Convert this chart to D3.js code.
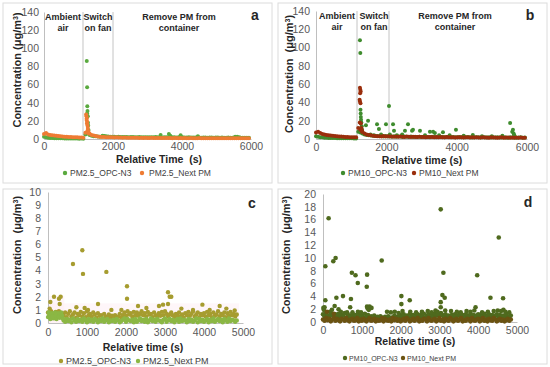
<!DOCTYPE html>
<html>
<head>
<meta charset="utf-8">
<style>
  body { margin: 0; background: #fff; }
  svg { font-family: "Liberation Sans", Arial, sans-serif; }
  .tick text { fill: #595959; font-size: 10.5px; }
  .ttl { font-weight: bold; fill: #262626; white-space: pre; }
  .note { font-weight: bold; fill: #262626; font-size: 9px; }
  .leg { fill: #404040; }
</style>
</head>
<body>
<svg id="fig" width="550" height="367"></svg>
<script src="https://cdn.jsdelivr.net/npm/d3@7"></script>
<script>
// ---- data ----
// panels a, b: one reading every 60 s from t = 0
var abStep = 60;
var aOpcBase = [2.5,2,1.5,1.2,1,0.9,0.8,0.8,0.7,0.7,0.6,0.6,0.5,0.6,0.5,0.5,0.5,0.4,0.5,0.4,
  5,6,4.5,3.5,3,3,2.8,2.6,2.8,3.2,
  3,2.8,2.6,2.5,2.4,2.3,2.5,2.2,2.3,2.1, 2.2,2,2.1,2.2,2,1.9,2.1,2,1.8,2,
  1.9,2,1.8,1.9,2.1,1.8,1.9,1.7,1.8,1.9, 1.8,1.7,1.9,1.8,1.6,1.8,1.7,1.9,1.7,1.6,
  1.8,1.7,1.6,1.7,1.8,1.6,1.5,1.7,1.6,1.5, 1.7,1.6,1.5,1.6,1.7,1.5,1.6,1.4,1.5,1.6,
  1.5,1.4,1.6,1.5,1.4,1.5,1.3,1.4,1.5,1.3];
var aOpcExtra = [[1240,86],[1250,57],[1255,36],[1260,31],[1250,28],[1270,25],[1275,18],[1280,15],
  [1290,10],[1300,6],[1700,3.5],[1750,3],[3380,4.5],[3620,5.5],[3660,3.5],[3960,4],[4460,3],
  [5540,2.5],[5600,2.5],[5660,2]];
var aNextBase = [5.5,6.5,5,4.5,4.2,3.8,3.5,3.2,3,2.8,2.6,2.5,2.3,2.2,2,2,1.8,1.7,1.6,1.5,
  7,9,6,4.5,3.8,3.2,2.8,2.5,2.3,2.1,
  2,1.9,2,1.8,1.7,1.8,1.6,1.7,1.5,1.6, 1.5,1.4,1.5,1.3,1.4,1.3,1.2,1.4,1.2,1.3,
  1.2,1.1,1.3,1.1,1.2,1,1.1,1.2,1,1.1, 1,1.1,0.9,1,1.1,0.9,1,0.9,1,0.8,
  0.9,1,0.8,0.9,0.8,1,0.9,0.8,0.9,0.8, 0.9,0.8,0.7,0.9,0.8,0.7,0.8,0.9,0.7,0.8,
  0.7,0.8,0.7,0.8,0.9,0.7,0.8,0.7,0.8,0.7];
var aNextExtra = [[1220,27],[1230,25],[1240,23],[1235,21],[1250,19],[1245,17],[1260,15],
  [1270,12],[1280,9],[1290,7],[1300,6]];

var bOpcBase = [3,2.5,2,1.8,1.5,1.3,1.2,1.1,1,1,0.9,0.9,0.8,0.8,0.8,0.7,0.7,0.7,0.6,0.6,
  8,7,6,5,4.5,4,3.8,3.6,3.4,3.2,
  3,3.5,2.8,3.2,2.6,3,2.5,2.9,2.4,2.8, 2.6,2.3,2.7,2.4,2.2,2.6,2.3,2.5,2.1,2.4,
  2.2,2.5,2.1,2.3,2,2.4,2.2,2,2.3,2.1, 2.2,1.9,2.1,2.3,1.9,2.2,2,1.8,2.1,1.9,
  2,1.8,2.1,1.9,1.7,2,1.8,1.9,1.7,2, 1.8,1.6,1.9,1.7,1.8,1.6,1.9,1.7,1.6,1.8,
  1.7,1.5,1.8,1.6,1.7,1.5,1.6,1.8,1.5,1.6];
var bOpcExtra = [[1250,108],[1260,94],[1265,32],[1270,28],[1275,24],[1280,21],[1290,18],[1300,14],
  [1310,10],[1350,6],[1420,15],[1480,20],[1550,5],[1650,4],[1735,16],[1790,11],[1850,5],[1990,16],
  [2076,36],[2100,5],[2190,16],[2218,9],[2300,4],[2450,5],[2530,9],[2616,16],[2730,9],[2758,10],
  [2957,9],[3100,4],[3240,8],[3330,8],[3380,6.5],[3500,4],[3610,7.5],[3800,4],[3980,10],[4200,3.5],
  [4460,4.5],[4720,3],[5000,3],[5300,3.5],[5520,17.5],[5580,8],[5600,10],[5620,6],[5640,4]];
var bNextBase = [7,8,6.5,5.5,5,4.5,4.2,3.8,3.5,3.2,3,2.8,2.6,2.5,2.3,2.2,2,2,1.9,1.8,
  12,10,8,6,5,4.5,4,3.6,3.3,3,
  3,2.8,3.2,2.7,2.9,2.6,2.8,2.5,2.7,2.4, 2.6,2.5,2.3,2.6,2.4,2.2,2.5,2.3,2.1,2.4,
  2.2,2.3,2,2.2,2.1,2.3,2,2.1,1.9,2.2, 2,1.9,2.1,1.8,2,1.9,1.7,2,1.8,1.9,
  1.7,1.8,1.9,1.6,1.8,1.7,1.9,1.6,1.7,1.8, 1.6,1.7,1.5,1.8,1.6,1.7,1.5,1.6,1.8,1.5,
  1.6,1.7,1.5,1.6,1.4,1.7,1.5,1.6,1.4,1.5];
var bNextExtra = [[1250,56],[1260,54],[1270,52],[1255,50],[1240,43],[1250,41],[1265,39],
  [1245,18],[1275,17],[1290,12],[1300,10],[1310,8]];

// panels c, d: one reading every 40 s from t = 0
var cdStep = 40;
var cOpcBase = [0.8,0.6,0.9,0.7,0.5,0.85,0.65,0.9,0.6,0.75, 0.55,0.8,0.45,0.7,0.9,0.5,0.65,0.8,0.4,0.7,
  0.6,0.85,0.5,0.75,0.45,0.9,0.6,0.7,0.5,0.8, 0.65,0.4,0.75,0.55,0.6,0.35,0.7,0.5,0.45,0.65,
  0.4,0.55,0.35,0.6,0.45,0.5,0.7,0.4,0.6,0.8, 0.55,0.9,0.65,0.75,0.5,0.85,0.6,0.8,0.55,0.7,
  0.9,0.6,0.75,0.5,0.85,0.65,0.7,0.45,0.8,0.6, 0.5,0.75,0.55,0.85,0.6,0.9,0.7,0.5,0.65,0.8,
  0.6,0.45,0.7,0.55,0.8,0.5,0.65,0.4,0.75,0.6, 0.85,0.55,0.7,0.9,0.5,0.65,0.8,0.45,0.7,0.6,
  0.75,0.5,0.85,0.6,0.7,0.45,0.8,0.55,0.65,0.9, 0.5,0.7,0.6,0.8,0.45,0.75,0.55,0.85,0.6,0.7,
  0.5,0.65];
var cOpcExtra = [[60,1.6],[154,2],[282,1.85],[325,2],[300,1.45],[43,1.1],[640,4.5],[727,1.2],
  [880,5.55],[897,3.75],[940,1.15],[1026,1],[1282,1.45],[1496,3.9],[1625,1],[1882,1],
  [2026,2.8],[2026,1.85],[2308,1.3],[2523,1.15],[2846,1.3],[2949,1.4],[3077,2.35],[3077,1.45],
  [3120,2],[3162,2],[3420,1.1],[3718,1],[3959,1.4],[4146,1],[4402,1.3],[4573,1.1],[4787,0.95]];
var cNextBase = [0.45,0.6,0.5,0.7,0.55,0.65,0.5,0.6,0.7,0.55, 0.2,0.1,0.3,0.15,0.25,0.05,0.35,0.2,0.1,0.3,
  0.15,0.25,0.1,0.35,0.2,0.05,0.3,0.15,0.25,0.1, 0.3,0.2,0.05,0.25,0.15,0.35,0.1,0.2,0.3,0.05,
  0.2,0.15,0.25,0.1,0.3,0.2,0.05,0.15,0.25,0.35, 0.1,0.3,0.2,0.15,0.25,0.05,0.3,0.1,0.2,0.35,
  0.15,0.25,0.1,0.3,0.05,0.2,0.35,0.15,0.25,0.1, 0.3,0.2,0.15,0.05,0.25,0.35,0.1,0.2,0.3,0.15,
  0.25,0.05,0.2,0.3,0.1,0.35,0.15,0.25,0.2,0.05, 0.3,0.15,0.25,0.1,0.2,0.35,0.05,0.3,0.15,0.25,
  0.1,0.2,0.3,0.05,0.25,0.15,0.35,0.1,0.2,0.3, 0.15,0.25,0.05,0.3,0.2,0.1,0.35,0.15,0.25,0.2,
  0.1,0.2];
var cNextExtra = [[20,0.8],[60,0.3],[100,0.75],[140,0.35],[180,0.8],[220,0.3],[260,0.75],[300,0.4],
  [340,0.8],[380,0.35],[40,0.55],[120,0.5],[200,0.55],[280,0.5],[360,0.55]];

var dOpcBase = [1.2,0.9,1.4,1.0,0.8,1.3,1.1,0.7,1.2,0.9, 1.3,0.8,1.1,1.0,1.4,0.7,1.2,0.9,1.0,1.3,
  0.8,1.1,0.6,1.2,0.9,1.0,0.7,1.3,0.8,1.1, 0.6,0.9,0.7,1.0,0.5,0.8,0.6,0.9,0.7,0.5,
  0.8,0.6,0.9,0.5,0.7,0.6,1.0,0.8,0.7,0.9, 1.1,0.8,1.2,0.9,1.0,0.7,1.3,0.9,1.1,0.8,
  1.0,1.2,0.8,1.1,0.9,1.3,0.7,1.0,1.2,0.9, 1.1,0.8,1.3,1.0,1.2,0.9,1.4,1.1,0.8,1.2,
  0.9,1.0,0.7,1.1,0.8,1.2,0.9,1.0,1.3,0.8, 1.1,0.9,1.2,1.0,0.8,1.3,0.9,1.1,0.7,1.0,
  1.2,0.8,1.1,0.9,1.3,1.0,0.8,1.2,0.9,1.1, 0.7,1.0,1.2,0.8,1.1,0.9,1.0,0.8,1.2,0.9,
  0.8,1.0];
var dOpcExtra = [[60,8.7],[60,3.4],[145,16.2],[265,9.5],[325,10],[345,3.8],[515,4.05],[720,3.6],
  [744,7.7],[838,7.3],[897,6.1],[1137,7.4],[1128,5.5],[1134,2.4],[1200,2.4],[1513,9.6],
  [2020,4.05],[2020,2.8],[2235,3.4],[3034,17.6],[3103,7.7],[3077,4.2],[3137,3.8],[3034,3.1],
  [3034,2.3],[3974,7.3],[4530,13.2],[4316,3.8],[4641,3.7],[4504,1.8],[4590,1.7],[3932,2.3],
  [10,2.2],[20,1.9],[40,2.3],[180,1.6],[230,1.9],[300,2.5],[400,2],[460,1.6],[620,1.5],[700,2.3],
  [760,1.5],[900,1.6],[980,1.5],[1150,2.1],[1180,1.9],[1250,2.2],[1650,1.6],[1750,1.5],[1850,1.6],
  [1950,1.4],[2050,1.7],[2250,1.6],[2400,1.5],[2550,1.6],[2700,1.7],[2800,1.5],[2900,1.8],
  [2950,1.6],[3150,1.8],[3300,1.7],[3450,1.6],[3550,1.5],[3700,1.7],[3800,1.6],[3900,1.8],
  [4100,1.5],[4250,1.6],[4400,1.7],[4650,1.9],[4700,1.6],[4800,1.5]];
var dNextBase = [0.4,0.2,0.6,0.3,0.5,0.1,0.4,0.6,0.2,0.5, 0.3,0.1,0.5,0.4,0.2,0.6,0.3,0.1,0.4,0.5,
  0.2,0.3,0.6,0.1,0.4,0.2,0.5,0.3,0.1,0.4, 0.6,0.2,0.3,0.5,0.1,0.4,0.2,0.3,0.6,0.1,
  0.5,0.3,0.2,0.4,0.1,0.6,0.3,0.5,0.2,0.4, 0.1,0.3,0.5,0.2,0.6,0.4,0.1,0.3,0.5,0.2,
  0.4,0.6,0.1,0.3,0.2,0.5,0.4,0.1,0.6,0.3, 0.2,0.4,0.5,0.1,0.3,0.6,0.2,0.4,0.1,0.5,
  0.3,0.2,0.6,0.4,0.1,0.3,0.5,0.2,0.4,0.6, 0.1,0.3,0.2,0.5,0.4,0.1,0.6,0.3,0.2,0.4,
  0.5,0.1,0.3,0.6,0.2,0.4,0.1,0.5,0.3,0.2, 0.6,0.4,0.1,0.3,0.5,0.2,0.4,0.1,0.3,0.5,
  0.2,0.4];
var dNextExtra = [[100,1.6],[280,1.3]];

// phase boundaries (s) and tick values
var aPhases = [0, 1130, 2000];
var bPhases = [0, 1166, 2076];
var abYTicks = [0, 20, 40, 60, 80, 100, 120, 140];
var abXTicks = [0, 2000, 4000, 6000];
var cYTicks = [0, 1, 2, 3, 4, 5, 6, 7, 8, 9, 10];
var dYTicks = [0, 2, 4, 6, 8, 10, 12, 14, 16, 18, 20];
var cdXTicks = [0, 1000, 2000, 3000, 4000, 5000];
// faint shaded areas in panel c: [t0, t1, top]
var cShade = [[0, 4900, 1.5], [0, 420, 2.05]];

var svg = d3.select("#fig");

function drawPanel(p) {
  var g = svg.append("g");
  g.append("rect")
    .attr("x", p.box[0]).attr("y", p.box[1]).attr("width", p.box[2]).attr("height", p.box[3])
    .attr("fill", "none").attr("stroke", "#dcdcdc");

  var x = d3.scaleLinear().domain(p.xDomain).range([p.x0, p.x1]);
  var y = d3.scaleLinear().domain(p.yDomain).range([p.yBot, p.yTop]);

  if (p.shade) {
    g.selectAll(".shade").data(p.shade).join("rect")
      .attr("x", function (d) { return x(d[0]); })
      .attr("y", function (d) { return y(d[2]); })
      .attr("width", function (d) { return x(d[1]) - x(d[0]); })
      .attr("height", function (d) { return y(0) - y(d[2]); })
      .attr("fill", "#fdeef4").attr("opacity", 0.55);
  }

  if (p.phases) {
    g.selectAll(".sep").data(p.phases.slice(1)).join("line")
      .attr("x1", function (d) { return x(d); }).attr("x2", function (d) { return x(d); })
      .attr("y1", p.yTop).attr("y2", p.yBot)
      .attr("stroke", "#c4c4c4").attr("stroke-width", 1);
  }

  var fmt = d3.format("d");
  var xa = g.append("g").attr("transform", "translate(0," + p.yBot + ")")
    .call(d3.axisBottom(x).tickValues(p.xTicks).tickFormat(fmt).tickSize(0).tickSizeOuter(0).tickPadding(p.xPad));
  var ya = g.append("g").attr("transform", "translate(" + p.x0 + ",0)")
    .call(d3.axisLeft(y).tickValues(p.yTicks).tickFormat(fmt).tickSize(0).tickSizeOuter(0).tickPadding(p.yPad));
  [xa, ya].forEach(function (a) {
    a.select(".domain").attr("stroke", "#bfbfbf");
    a.selectAll("text").attr("font-family", null).attr("font-size", null);
  });

  p.series.forEach(function (s) {
    var pts = s.base.map(function (v, i) { return [i * p.step, v]; }).concat(s.extra);
    g.append("g").selectAll("circle").data(pts).join("circle")
      .attr("cx", function (d) { return x(d[0]); })
      .attr("cy", function (d) { return y(d[1]); })
      .attr("r", p.r)
      .attr("fill", s.color);
  });

  // top annotations
  if (p.notes) {
    p.notes.forEach(function (n) {
      var t = g.append("text").attr("class", "note").attr("text-anchor", "middle");
      n.lines.forEach(function (l, i) {
        t.append("tspan").attr("x", n.x).attr("y", p.noteY + i * 11).text(l);
      });
    });
  }

  g.append("text").attr("class", "ttl").attr("font-size", 14)
    .attr("x", p.letter[0]).attr("y", p.letter[1]).attr("text-anchor", "middle").text(p.name);

  g.append("text").attr("class", "ttl").attr("font-size", 10.5).attr("text-anchor", "middle")
    .attr("x", p.xTitle[0]).attr("y", p.xTitle[1]).text(p.xLabel);

  var yt = g.append("text").attr("class", "ttl").attr("font-size", 11).attr("text-anchor", "middle")
    .attr("transform", "translate(" + p.yTitle[0] + "," + p.yTitle[1] + ") rotate(-90)");
  yt.append("tspan").text(p.yLabel);
  yt.append("tspan").attr("font-size", 7).attr("baseline-shift", "super").text("3");
  yt.append("tspan").text(")");

  p.series.forEach(function (s, i) {
    var lx = p.legend[i];
    g.append("circle").attr("cx", lx[0]).attr("cy", p.legendY - 3).attr("r", 2.2).attr("fill", s.color);
    g.append("text").attr("class", "leg").attr("font-size", p.legendSize)
      .attr("x", lx[1]).attr("y", p.legendY).text(s.label);
  });
}

drawPanel({
  name: "a", box: [3, 3, 269, 180],
  x0: 44, x1: 251, yTop: 12, yBot: 139, yPad: 5, xPad: 4,
  xDomain: [0, 6000], yDomain: [0, 140], xTicks: abXTicks, yTicks: abYTicks,
  step: abStep, r: 2, phases: aPhases,
  notes: [{ x: 63, lines: ["Ambient", "air"] }, { x: 98, lines: ["Switch", "on fan"] },
          { x: 179, lines: ["Remove PM from", "container"] }],
  noteY: 19.5, letter: [255, 20],
  xLabel: "Relative Time  (s)", xTitle: [159, 163],
  yLabel: "Concentration (\u03bcg/m", yTitle: [20.5, 70],
  legendY: 176, legendSize: 8.5, legend: [[65, 70], [142, 149]],
  series: [
    { label: "PM2.5_OPC-N3", color: "#5aaa3f", base: aOpcBase, extra: aOpcExtra },
    { label: "PM2.5_Next PM", color: "#ee7b33", base: aNextBase, extra: aNextExtra }
  ]
});

drawPanel({
  name: "b", box: [278, 3, 269, 180],
  x0: 316, x1: 527, yTop: 11, yBot: 139, yPad: 6, xPad: 5,
  xDomain: [0, 6000], yDomain: [0, 140], xTicks: abXTicks, yTicks: abYTicks,
  step: abStep, r: 2, phases: bPhases,
  notes: [{ x: 337, lines: ["Ambient", "air"] }, { x: 374, lines: ["Switch", "on fan"] },
          { x: 455, lines: ["Remove PM from", "container"] }],
  noteY: 18.5, letter: [530, 20],
  xLabel: "Relative time (s)", xTitle: [422, 164],
  yLabel: "Concentration  (\u03bcg/m", yTitle: [293, 74],
  legendY: 176, legendSize: 8.5, legend: [[343, 348], [414, 419]],
  series: [
    { label: "PM10_OPC-N3", color: "#3f8c2e", base: bOpcBase, extra: bOpcExtra },
    { label: "PM10_Next PM", color: "#9a2e0c", base: bNextBase, extra: bNextExtra }
  ]
});

drawPanel({
  name: "c", box: [3, 189, 269, 175],
  x0: 48, x1: 243, yTop: 192, yBot: 323, yPad: 7, xPad: 6,
  xDomain: [0, 5000], yDomain: [0, 10], xTicks: cdXTicks, yTicks: cYTicks,
  step: cdStep, r: 2.2, shade: cShade, letter: [252, 208],
  xLabel: "Relative time (s)", xTitle: [143, 351],
  yLabel: "Concentration  (\u03bcg/m", yTitle: [20.5, 255],
  legendY: 364, legendSize: 9, legend: [[61, 66], [138, 143]],
  series: [
    { label: "PM2.5_OPC-N3", color: "#a69c2f", base: cOpcBase, extra: cOpcExtra },
    { label: "PM2.5_Next PM", color: "#8bb744", base: cNextBase, extra: cNextExtra }
  ]
});

drawPanel({
  name: "d", box: [278, 189, 269, 175],
  x0: 323, x1: 517, yTop: 194, yBot: 322, yPad: 7, xPad: 5,
  xDomain: [0, 5000], yDomain: [0, 20], xTicks: cdXTicks, yTicks: dYTicks,
  step: cdStep, r: 2.3, letter: [528, 207],
  xLabel: "Relative time (s)", xTitle: [415, 345],
  yLabel: "Concentration  (\u03bcg/m", yTitle: [290, 255],
  legendY: 361, legendSize: 7, legend: [[345, 349], [403, 407]],
  series: [
    { label: "PM10_OPC-N3", color: "#4f6a1e", base: dOpcBase, extra: dOpcExtra },
    { label: "PM10_Next PM", color: "#6b5312", base: dNextBase, extra: dNextExtra }
  ]
});
</script>
</body>
</html>
